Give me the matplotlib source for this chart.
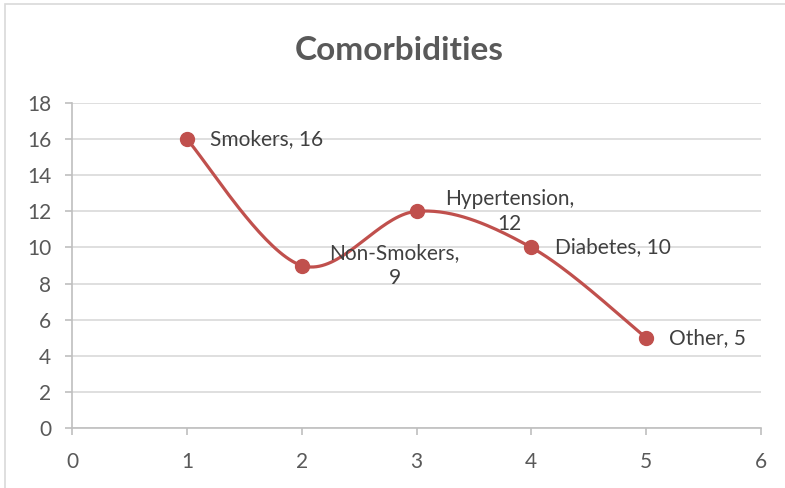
import numpy as np
import matplotlib.pyplot as plt
from matplotlib.patches import Rectangle

plt.rcParams['font.family'] = ['Lato', 'DejaVu Sans']

categories = ["Smokers", "Non-Smokers", "Hypertension", "Diabetes", "Other"]
x_vals = [1, 2, 3, 4, 5]
counts = [16, 9, 12, 10, 5]
# label text and placement (pixels right of point, alignment)
label_texts = ["Smokers, 16", "Non-Smokers,\n9", "Hypertension,\n12", "Diabetes, 10", "Other, 5"]
label_dx = [23, 93, 93, 24, 23]
label_ha = ["left", "center", "center", "left", "left"]

line_col = "#C0504D"
text_col = "#595959"
grid_col = "#D9D9D9"


def smooth_curve(xs, ys, n=40):
    # Excel-style smoothing: cubic Bezier segments, Catmull-Rom control points
    xs = np.asarray(xs, float)
    ys = np.asarray(ys, float)
    px = np.concatenate([[xs[0]], xs, [xs[-1]]])
    py = np.concatenate([[ys[0]], ys, [ys[-1]]])
    ox, oy = [], []
    t = np.linspace(0, 1, n)
    for i in range(1, len(px) - 2):
        p0 = np.array([px[i], py[i]])
        p3 = np.array([px[i + 1], py[i + 1]])
        c1 = p0 + (np.array([px[i + 1], py[i + 1]]) - np.array([px[i - 1], py[i - 1]])) / 6
        c2 = p3 - (np.array([px[i + 2], py[i + 2]]) - np.array([px[i], py[i]])) / 6
        b = ((1 - t) ** 3)[:, None] * p0 + (3 * (1 - t) ** 2 * t)[:, None] * c1 \
            + (3 * (1 - t) * t ** 2)[:, None] * c2 + (t ** 3)[:, None] * p3
        ox.extend(b[:, 0])
        oy.extend(b[:, 1])
    return ox, oy


fig = plt.figure(figsize=(7.85, 4.88), dpi=100)
ax = fig.add_axes([72 / 785, 60 / 488, 689 / 785, 325 / 488])

# chart border (light gray frame cut off at right/bottom)
fig.patches.append(Rectangle((5 / 785, -0.1), 1.2, 485 / 488 + 0.1 - 0.003,
                             transform=fig.transFigure, fill=False,
                             edgecolor="#D9D9D9", linewidth=1.2))

sx, sy = smooth_curve(x_vals, counts)
ax.plot(sx, sy, color=line_col, linewidth=2.3, zorder=3)
ax.plot(x_vals, counts, "o", color=line_col, markersize=10, zorder=4)

for xv, yv, txt, dx, ha in zip(x_vals, counts, label_texts, label_dx, label_ha):
    ax.annotate(txt, (xv, yv), xytext=(dx, 0), textcoords="offset pixels",
                ha=ha, va="center", fontsize=15, color="#404040",
                linespacing=1.3, zorder=5)

ax.set_xlim(0, 6)
ax.set_ylim(0, 18)
ax.set_xticks(range(0, 7))
ax.set_yticks(range(0, 19, 2))
ax.yaxis.grid(True, color=grid_col, linewidth=1.2)
ax.set_axisbelow(True)

for s in ["top", "right"]:
    ax.spines[s].set_visible(False)
ax.spines["left"].set_color("#BFBFBF")
ax.spines["bottom"].set_color("#BFBFBF")
ax.spines["left"].set_linewidth(1.2)
ax.spines["bottom"].set_linewidth(1.2)
ax.tick_params(axis="both", colors="#BFBFBF", labelcolor=text_col,
               labelsize=15, length=5, width=1.2)
ax.tick_params(axis="x", pad=12)
ax.tick_params(axis="y", pad=10)

fig.text(399 / 785, 1 - 50 / 488, "Comorbidities", ha="center", va="center",
         fontsize=24, fontweight="bold", color=text_col)

plt.savefig("out.png", dpi=100)
